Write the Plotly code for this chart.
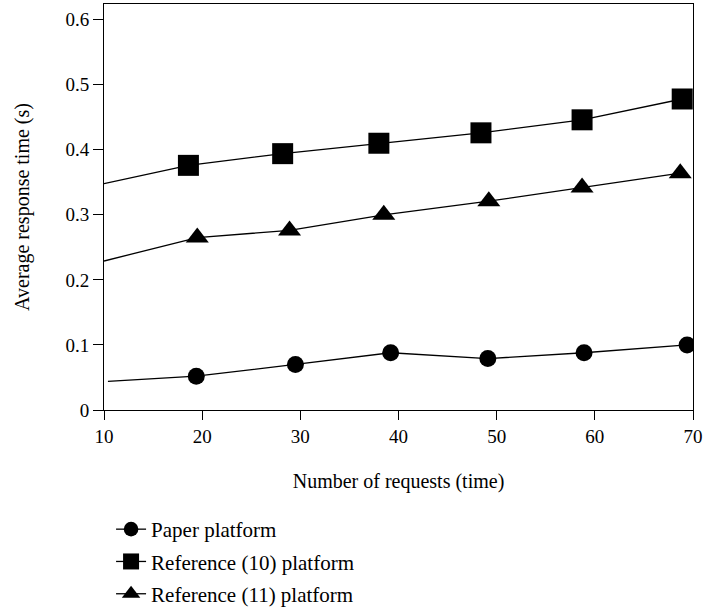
import plotly.graph_objects as go

x_paper = [10.4, 19.4, 29.5, 39.2, 49.1, 58.9, 69.4]
y_paper = [0.044, 0.052, 0.070, 0.088, 0.079, 0.088, 0.100]

x_ref10 = [10.0, 18.6, 28.2, 38.0, 48.4, 58.7, 68.9]
y_ref10 = [0.348, 0.376, 0.394, 0.410, 0.426, 0.446, 0.478]

x_ref11 = [10.0, 19.5, 28.9, 38.5, 49.2, 58.7, 68.7]
y_ref11 = [0.229, 0.265, 0.276, 0.300, 0.321, 0.342, 0.364]

names = ["Paper platform", "Reference (10) platform", "Reference (11) platform"]
symbols = ["circle", "square", "triangle-up"]
sizes = [17, 21, 20]

FONT = "Liberation Serif"

fig = go.Figure()
for i, (xs, ys) in enumerate([(x_paper, y_paper), (x_ref10, y_ref10), (x_ref11, y_ref11)]):
    msize = [0] + [sizes[i]] * (len(xs) - 1)
    fig.add_trace(go.Scatter(
        x=xs, y=ys, mode="lines+markers", name=names[i],
        legendgroup=f"g{i}",
        line=dict(color="#000000", width=1.3),
        marker=dict(symbol=symbols[i], size=msize, color="#000000", opacity=1,
                    line=dict(width=0, color="#000000")),
    ))

fig.update_layout(
    template="none",
    width=704, height=614,
    margin=dict(l=104, r=11, t=4, b=204, autoexpand=False),
    paper_bgcolor="white", plot_bgcolor="white",
    font=dict(family=FONT, size=19, color="black"),
    showlegend=True,
    legend=dict(
        x=0.012, xanchor="left", xref="paper",
        y=0.171, yanchor="top", yref="container",
        font=dict(family=FONT, size=21, color="black"),
        tracegroupgap=2, bgcolor="rgba(0,0,0,0)",
    ),
    xaxis=dict(
        range=[10, 70], tickvals=[10, 20, 30, 40, 50, 60, 70],
        ticks="outside", ticklen=9, tickwidth=1, tickcolor="black",
        tickfont=dict(family=FONT, size=19, color="black"),
        showline=True, linecolor="black", linewidth=1, mirror=True,
        showgrid=False, zeroline=False, automargin=True,
        title=dict(text="Number of requests (time)", standoff=28,
                   font=dict(family=FONT, size=20, color="black")),
    ),
    yaxis=dict(
        range=[0, 0.624], tickvals=[0, 0.1, 0.2, 0.3, 0.4, 0.5, 0.6],
        ticktext=["0", "0.1", "0.2", "0.3", "0.4", "0.5", "0.6"],
        ticks="outside", ticklen=10, tickwidth=1, tickcolor="black",
        tickfont=dict(family=FONT, size=19, color="black"),
        showline=True, linecolor="black", linewidth=1, mirror=True,
        showgrid=False, zeroline=False, automargin=True,
        title=dict(text="Average response time (s)", standoff=30,
                   font=dict(family=FONT, size=20, color="black")),
    ),
)

fig.write_html("out.html", config={"displayModeBar": False},
               post_script="document.body.style.margin='0';")
